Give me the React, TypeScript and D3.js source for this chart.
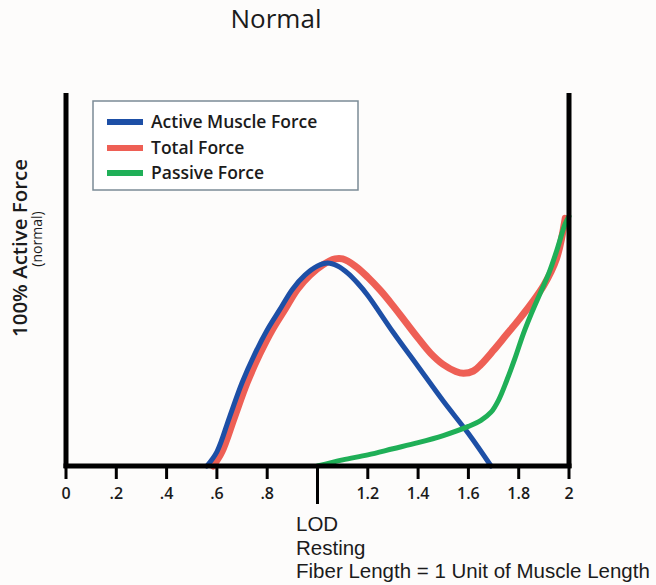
import React from "react";
import * as d3 from "d3";

const W = 656;
const H = 585;

const title = "Normal";
const xTicks = [0, 0.2, 0.4, 0.6, 0.8, 1.2, 1.4, 1.6, 1.8, 2];
const xTickLabels = ["0", ".2", ".4", ".6", ".8", "1.2", "1.4", "1.6", "1.8", "2"];
const restingLength = 1;
const restingLabels = ["LOD", "Resting", "Fiber Length = 1 Unit of Muscle Length"];
const yLabel = "100% Active Force";
const ySubLabel = "(normal)";
const seriesNames = ["Active Muscle Force", "Total Force", "Passive Force"];
const seriesColors = ["#1D4FA6", "#EE5F55", "#1FAF57"];

const activeLen = [0.56, 0.6, 0.65, 0.7, 0.75, 0.8, 0.85, 0.9, 0.95, 1.0, 1.04, 1.08, 1.12, 1.16, 1.2, 1.3, 1.4, 1.5, 1.6, 1.69];
const activeForce = [0, 0.07, 0.24, 0.41, 0.55, 0.67, 0.77, 0.87, 0.94, 0.985, 1.0, 0.985, 0.95, 0.9, 0.84, 0.66, 0.49, 0.32, 0.16, 0];

const totalLen = [0.585, 0.62, 0.67, 0.72, 0.77, 0.82, 0.87, 0.92, 0.97, 1.02, 1.07, 1.1, 1.15, 1.2, 1.25, 1.3, 1.35, 1.4, 1.45, 1.5, 1.55, 1.58, 1.62, 1.65, 1.7, 1.75, 1.8, 1.85, 1.9, 1.95, 1.985];
const totalForce = [0, 0.07, 0.24, 0.41, 0.55, 0.67, 0.77, 0.87, 0.94, 0.99, 1.02, 1.02, 0.985, 0.93, 0.865, 0.79, 0.71, 0.63, 0.555, 0.5, 0.466, 0.457, 0.468, 0.5, 0.57, 0.645, 0.72, 0.8, 0.89, 1.02, 1.22];

const passiveLen = [1.0, 1.1, 1.2, 1.3, 1.4, 1.5, 1.6, 1.65, 1.69, 1.72, 1.752, 1.785, 1.818, 1.85, 1.885, 1.92, 1.951, 1.984, 2.0];
const passiveForce = [0, 0.03, 0.055, 0.085, 0.115, 0.15, 0.195, 0.225, 0.265, 0.325, 0.42, 0.53, 0.65, 0.75, 0.85, 0.95, 1.06, 1.19, 1.23];

const FONT = "'Open Sans', 'Noto Sans', sans-serif";
const FONT_TIGHT = "'Liberation Sans', Arial, sans-serif";
const TEXT = "#1b1b1b";

export default function App() {
  const x = d3.scaleLinear().domain([0, 2]).range([66, 569]);
  const y = d3.scaleLinear().domain([0, 1]).range([466, 263]);
  const yTop = 93;

  const line = d3
    .line<[number, number]>()
    .x((d) => x(d[0]))
    .y((d) => y(d[1]))
    .curve(d3.curveCatmullRom.alpha(0.5));

  const series = [
    { len: totalLen, f: totalForce, w: 7, order: 1 },
    { len: activeLen, f: activeForce, w: 5, order: 0 },
    { len: passiveLen, f: passiveForce, w: 5, order: 2 },
  ];

  const legendY = [122, 148, 173];

  return (
    <svg
      width={W}
      height={H}
      style={{ position: "absolute", left: 0, top: 0, background: "#fdfcfb" }}
      fontFamily={FONT}
    >
      <text x={276} y={28} textAnchor="middle" fontSize={26} fill={TEXT}>
        {title}
      </text>

      {/* y label */}
      <text
        transform={`translate(27,248) rotate(-90)`}
        textAnchor="middle"
        fontSize={20.5}
        fontWeight={600}
        fill={TEXT}
      >
        {yLabel}
      </text>
      <text
        transform={`translate(42,239) rotate(-90)`}
        textAnchor="middle"
        fontSize={14}
        fill={TEXT}
      >
        {ySubLabel}
      </text>

      {/* curves */}
      {series.map((s, i) => (
        <path
          key={i}
          d={line(s.len.map((l, j) => [l, s.f[j]] as [number, number])) || ""}
          fill="none"
          stroke={seriesColors[s.order]}
          strokeWidth={s.w}
          strokeLinecap="round"
        />
      ))}

      {/* axes */}
      <line x1={x(0)} x2={x(0)} y1={yTop} y2={y(0) + 2} stroke="#000" strokeWidth={5} />
      <line x1={x(2)} x2={x(2)} y1={yTop} y2={y(0) + 2} stroke="#000" strokeWidth={5} />
      <line x1={x(0) - 2.5} x2={x(2) + 2.5} y1={y(0)} y2={y(0)} stroke="#000" strokeWidth={5} />
      {xTicks.map((t, i) => (
        <g key={i}>
          <line x1={x(t)} x2={x(t)} y1={y(0)} y2={479} stroke="#000" strokeWidth={3} />
          <text x={x(t)} y={499} textAnchor="middle" fontSize={16} fontWeight={600} fill={TEXT}>
            {xTickLabels[i]}
          </text>
        </g>
      ))}
      <line x1={x(restingLength)} x2={x(restingLength)} y1={y(0)} y2={504} stroke="#000" strokeWidth={3} />
      {restingLabels.map((t, i) => (
        <text key={i} x={296} y={531 + i * 23.5} fontSize={20.5} fontFamily={FONT_TIGHT} fill={TEXT}>
          {t}
        </text>
      ))}

      {/* legend */}
      <rect x={93} y={101} width={265} height={89} fill="#fff" stroke="#7b8b96" strokeWidth={1.5} />
      {seriesNames.map((n, i) => (
        <g key={i}>
          <line x1={107} x2={143} y1={legendY[i]} y2={legendY[i]} stroke={seriesColors[i]} strokeWidth={6} />
          <text x={151} y={legendY[i] + 6} fontSize={17.5} fontWeight={600} fill={TEXT}>
            {n}
          </text>
        </g>
      ))}
    </svg>
  );
}
